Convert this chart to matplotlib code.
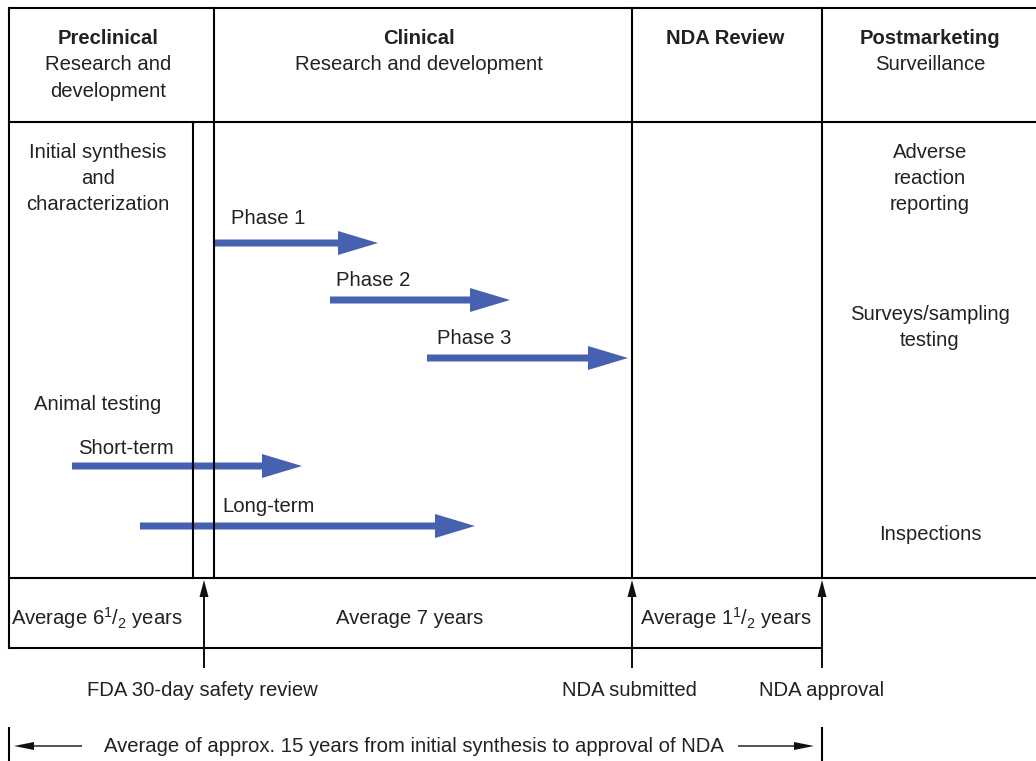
import matplotlib
matplotlib.use("Agg")
import matplotlib.pyplot as plt
from matplotlib.patches import FancyArrow

plt.rcParams['font.family'] = ['Liberation Sans', 'DejaVu Sans']
plt.rcParams['mathtext.fontset'] = 'custom'
plt.rcParams['mathtext.rm'] = 'Liberation Sans'
plt.rcParams['mathtext.it'] = 'Liberation Sans:italic'

# stage columns (pixel x of boundaries) and headers
stage_titles = ["Preclinical", "Clinical", "NDA Review", "Postmarketing"]
stage_subtitles = [["Research and", "development"], ["Research and development"], [], ["Surveillance"]]
stage_centers = [108, 419, 725, 930]

# activity bars: label, start, end, row y, label position
bar_labels = ["Phase 1", "Phase 2", "Phase 3", "Short-term", "Long-term"]
bar_start = [214, 330, 427, 72, 140]
bar_end = [378, 510, 628, 302, 475]
bar_y = [243, 300, 358, 466, 526]
bar_label_x = [231, 336, 437, 78, 222]
bar_label_y = [219, 280, 339, 448, 507]

# durations on the timeline strip
duration_labels = ["Average 6$^{1}$/$_{2}$ years", "Average 7 years", "Average 1$^{1}$/$_{2}$ years"]
duration_x = [97, 410, 726]

# milestones
milestone_labels = ["FDA 30-day safety review", "NDA submitted", "NDA approval"]
milestone_x = [204, 632, 822]
milestone_text_x = [202, 629, 822]

blue = '#4561b0'
fs = 14.6
lw = 1.5

fig = plt.figure(figsize=(10.36, 7.61), dpi=100)
ax = fig.add_axes([0, 0, 1, 1])
ax.set_xlim(0, 1036)
ax.set_ylim(761, 0)
ax.axis('off')

# grid lines
ax.plot([9, 1036], [8, 8], color='k', lw=lw, zorder=3)
ax.plot([9, 1036], [122, 122], color='k', lw=lw, zorder=3)
ax.plot([9, 1036], [578, 578], color='k', lw=lw, zorder=3)
ax.plot([9, 822], [648, 648], color='k', lw=lw, zorder=3)
ax.plot([9, 9], [8, 648], color='k', lw=lw, zorder=3)
ax.plot([214, 214], [8, 578], color='k', lw=lw, zorder=3)
ax.plot([193, 193], [122, 578], color='k', lw=lw, zorder=3)
ax.plot([632, 632], [8, 578], color='k', lw=lw, zorder=3)
ax.plot([822, 822], [8, 578], color='k', lw=lw, zorder=3)

# headers
for title, subs, cx in zip(stage_titles, stage_subtitles, stage_centers):
    ax.text(cx, 39, title, fontsize=fs, fontweight='bold', ha='center', va='center', color='#222222')
    for i, s in enumerate(subs):
        ax.text(cx, 65 + 26.5 * i, s, fontsize=fs, ha='center', va='center', color='#222222')

# left column notes
for i, s in enumerate(["Initial synthesis", "and", "characterization"]):
    ax.text(98, 153 + 26 * i, s, fontsize=fs, ha='center', va='center', color='#222222')
ax.text(98, 404, "Animal testing", fontsize=fs, ha='center', va='center', color='#222222')

# right column notes
for i, s in enumerate(["Adverse", "reaction", "reporting"]):
    ax.text(930, 153 + 26 * i, s, fontsize=fs, ha='center', va='center', color='#222222')
for i, s in enumerate(["Surveys/sampling", "testing"]):
    ax.text(930, 314 + 26 * i, s, fontsize=fs, ha='center', va='center', color='#222222')
ax.text(930, 534, "Inspections", fontsize=fs, ha='center', va='center', color='#222222')

# blue activity arrows
for lab, x0, x1, y, lx, ly in zip(bar_labels, bar_start, bar_end, bar_y, bar_label_x, bar_label_y):
    ax.add_patch(FancyArrow(x0, y, x1 - x0, 0, width=7, head_width=24, head_length=40,
                            length_includes_head=True, color=blue, lw=0, zorder=2))
    ax.text(lx, ly, lab, fontsize=fs, ha='left', va='center', color='#222222')

# durations
for lab, x in zip(duration_labels, duration_x):
    ax.text(x, 618, lab, fontsize=fs, ha='center', va='center', color='#222222')

# milestone arrows
for x, tx, lab in zip(milestone_x, milestone_text_x, milestone_labels):
    ax.add_patch(FancyArrow(x, 668, 0, 580 - 668, width=2, head_width=9, head_length=17,
                            length_includes_head=True, color='#111111', lw=0, zorder=3))
    ax.text(tx, 690, lab, fontsize=fs, ha='center', va='center', color='#222222')

# overall span
ax.plot([9, 9], [728, 761], color='k', lw=lw)
ax.plot([822, 822], [728, 761], color='k', lw=lw)
ax.add_patch(FancyArrow(82, 746, 14 - 82, 0, width=1.4, head_width=8, head_length=20,
                        length_includes_head=True, color='#111111', lw=0))
ax.add_patch(FancyArrow(738, 746, 814 - 738, 0, width=1.4, head_width=8, head_length=20,
                        length_includes_head=True, color='#111111', lw=0))
ax.text(414, 747, "Average of approx. 15 years from initial synthesis to approval of NDA",
        fontsize=fs, ha='center', va='center', color='#222222')

fig.savefig("out.png", dpi=100)
